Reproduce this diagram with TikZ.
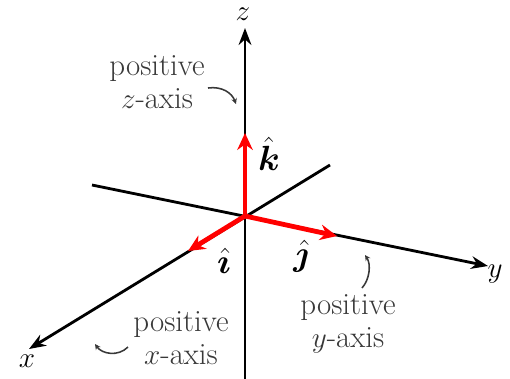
\documentclass[tikz,border=0pt]{standalone}
\usepackage{amsmath}
\usepackage{bm}
\usepackage{xcolor}
\usetikzlibrary{arrows.meta, positioning}
\definecolor{labelgray}{HTML}{383838}
\definecolor{unitred}{HTML}{FF0000}

\begin{document}
\begin{tikzpicture}[
      x=0.025cm, y=-0.025cm,
      axis/.style={line width=2pt, -{Stealth[length=12pt, width=9pt]}},
      unit/.style={draw=unitred, line width=3.4pt, -{Stealth[length=12pt, width=11pt]}},
      hint/.style={draw=labelgray, line width=1.1pt, -{Stealth[length=4pt, width=4pt]}},
      every node/.style={font=\fontsize{22}{23}\selectfont, inner sep=0pt},
      lbl/.style={text=labelgray, align=center},
      hat/.style={font=\fontsize{27}{28}\selectfont}
    ]
  \useasboundingbox (0,0) rectangle (510,378);

  % origin and axis ends
  \coordinate (O) at (245,216);
  \coordinate (zbot) at (245,380);
  \coordinate (ztip) at (245,28);
  \coordinate (xneg) at (330,165);
  \coordinate (xtip) at (29,349);
  \coordinate (yneg) at (92,185);
  \coordinate (ytip) at (488,266);

  \draw[axis] (zbot) -- (ztip);
  \draw[axis] (xneg) -- (xtip);
  \draw[axis] (yneg) -- (ytip);

  \node (zname) at (243,14) {$z$};
  \node (xname) at (27,361) {$x$};
  \node (yname) at (495,274) {$y$};

  % unit vectors
  \coordinate (khead) at (245,133);
  \coordinate (ihead) at (188,251);
  \coordinate (jhead) at (337,236);
  \draw[unit] (O) -- (khead);
  \draw[unit] (O) -- (ihead);
  \draw[unit] (O) -- (jhead);

  \node[hat] (kname) at (269,154) {$\hat{\bm{k}}$};
  \node[hat] (iname) at (224,261) {$\hat{\bm{\imath}}$};
  \node[hat] (jname) at (301,256) {$\hat{\bm{\jmath}}$};

  % labels for the positive axes
  \node[lbl] (zlabel) at (157,82) {positive\\$z$-axis};
  \node[lbl] (xlabel) at (181,338) {positive\\$x$-axis};
  \node[lbl] (ylabel) at (348,324) {positive\\$y$-axis};

  \coordinate (zpt) at (236,104);
  \coordinate (xpt) at (95,344);
  \coordinate (ypt) at (365,255);
  \draw[hint] (208,88) .. controls (222,86) and (232,93) .. (zpt);
  \draw[hint] (128,347) .. controls (118,357) and (102,354) .. (xpt);
  \draw[hint] (362,288) .. controls (370,279) and (371,264) .. (ypt);
\end{tikzpicture}
\end{document}
